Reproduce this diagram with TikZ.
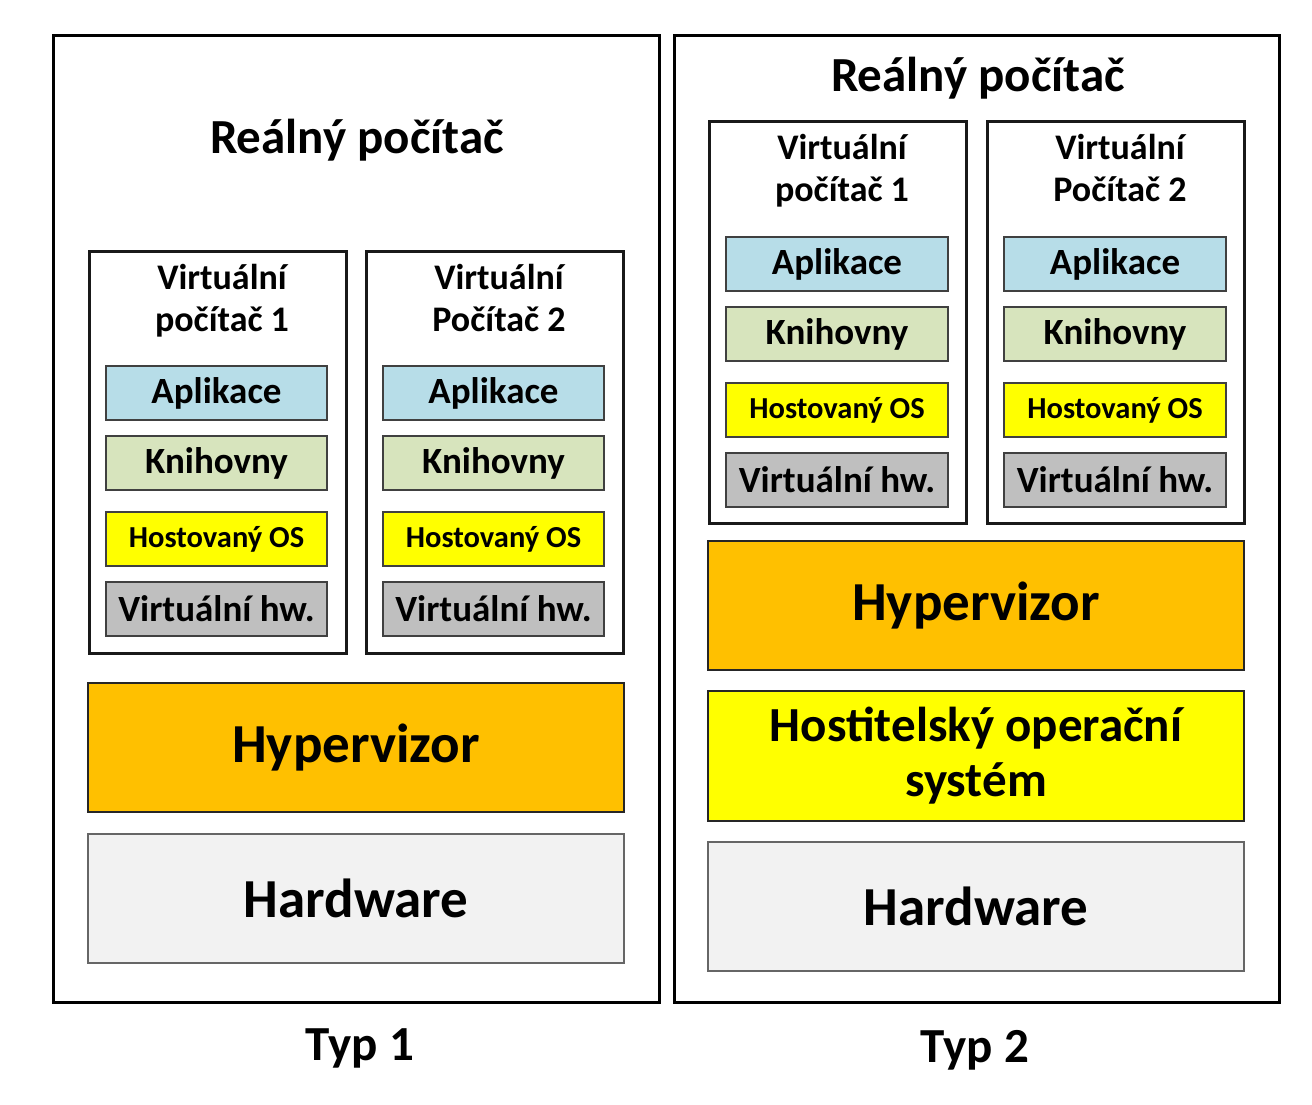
\documentclass[tikz,border=0pt]{standalone}
\usepackage{fontspec}
\setmainfont{Carlito}
\begin{document}
\begin{tikzpicture}[x=1pt,y=-1pt,
  outerbox/.style={draw=black,line width=3pt},
  vmbox/.style={draw=black!90,line width=3pt},
  layer/.style={draw=black!75,line width=2pt},
  biglayer/.style={draw=black!85,line width=2.5pt},
  txt/.style={font=\bfseries\fontsize{#1}{#1}\selectfont,align=center,inner sep=0pt}
]
\definecolor{appc}{HTML}{B7DDE8}
\definecolor{libc}{HTML}{D7E4BD}
\definecolor{osc}{HTML}{FFFF00}
\definecolor{vhwc}{HTML}{BFBFBF}
\definecolor{hypc}{HTML}{FFC000}
\definecolor{hwc}{HTML}{F2F2F2}
\useasboundingbox (0,0) rectangle (1312,1105);

% ---------- Typ 1 ----------
\draw[outerbox] (53,36) rectangle (659,1002);
\node[txt=49] (t1title) at (357,140) {Reálný počítač};
\foreach \x/\n/\lab in {89/a/počítač 1,366/b/Počítač 2}{
  \draw[vmbox] (\x,251) rectangle ++(257,402);
  \node[txt=36,text depth=0pt] (t1vm\n) at (\x+133,298) {Virtuální\\[6pt]\lab};
  \draw[layer,fill=appc] (\x+17,366) rectangle ++(221,54);
  \node[txt=37] (t1app\n) at (\x+127.5,393) {Aplikace};
  \draw[layer,fill=libc] (\x+17,436) rectangle ++(221,54);
  \node[txt=37] (t1lib\n) at (\x+127.5,463) {Knihovny};
  \draw[layer,fill=osc] (\x+17,512) rectangle ++(221,54);
  \node[txt=30.5] (t1os\n) at (\x+127.5,539) {Hostovaný OS};
  \draw[layer,fill=vhwc] (\x+17,582) rectangle ++(221,54);
  \node[txt=37] (t1vhw\n) at (\x+127.5,609) {Virtuální hw.};
}
\draw[biglayer,fill=hypc] (88,683) rectangle (624,812);
\node[txt=55] (t1hyp) at (356,747.5) {Hypervizor};
\draw[layer,draw=black!60,fill=hwc] (88,834) rectangle (624,963);
\node[txt=55] (t1hw) at (356,898.5) {Hardware};
\node[txt=49] (typ1) at (360,1048) {Typ 1};

% ---------- Typ 2 ----------
\draw[outerbox] (674,36) rectangle (1279,1002);
\node[txt=49] (t2title) at (978,78) {Reálný počítač};
\foreach \x/\n/\lab in {709/a/počítač 1,987/b/Počítač 2}{
  \draw[vmbox] (\x,122) rectangle ++(257,401);
  \node[txt=36,text depth=0pt] (t2vm\n) at (\x+133,168) {Virtuální\\[6pt]\lab};
  \draw[layer,fill=appc] (\x+17,237) rectangle ++(222,54);
  \node[txt=37] (t2app\n) at (\x+128,264) {Aplikace};
  \draw[layer,fill=libc] (\x+17,307) rectangle ++(222,54);
  \node[txt=37] (t2lib\n) at (\x+128,334) {Knihovny};
  \draw[layer,fill=osc] (\x+17,383) rectangle ++(222,54);
  \node[txt=30.5] (t2os\n) at (\x+128,410) {Hostovaný OS};
  \draw[layer,fill=vhwc] (\x+17,453) rectangle ++(222,54);
  \node[txt=37] (t2vhw\n) at (\x+128,480) {Virtuální hw.};
}
\draw[biglayer,fill=hypc] (708,541) rectangle (1244,670);
\node[txt=55] (t2hyp) at (976,605.5) {Hypervizor};
\draw[biglayer,fill=osc] (708,691) rectangle (1244,821);
\node[txt=49] (t2host) at (976,756) {Hostitelský operační\\[6pt]systém};
\draw[layer,draw=black!60,fill=hwc] (708,842) rectangle (1244,971);
\node[txt=55] (t2hw) at (976,906.5) {Hardware};
\node[txt=49] (typ2) at (975,1050) {Typ 2};
\end{tikzpicture}
\end{document}
